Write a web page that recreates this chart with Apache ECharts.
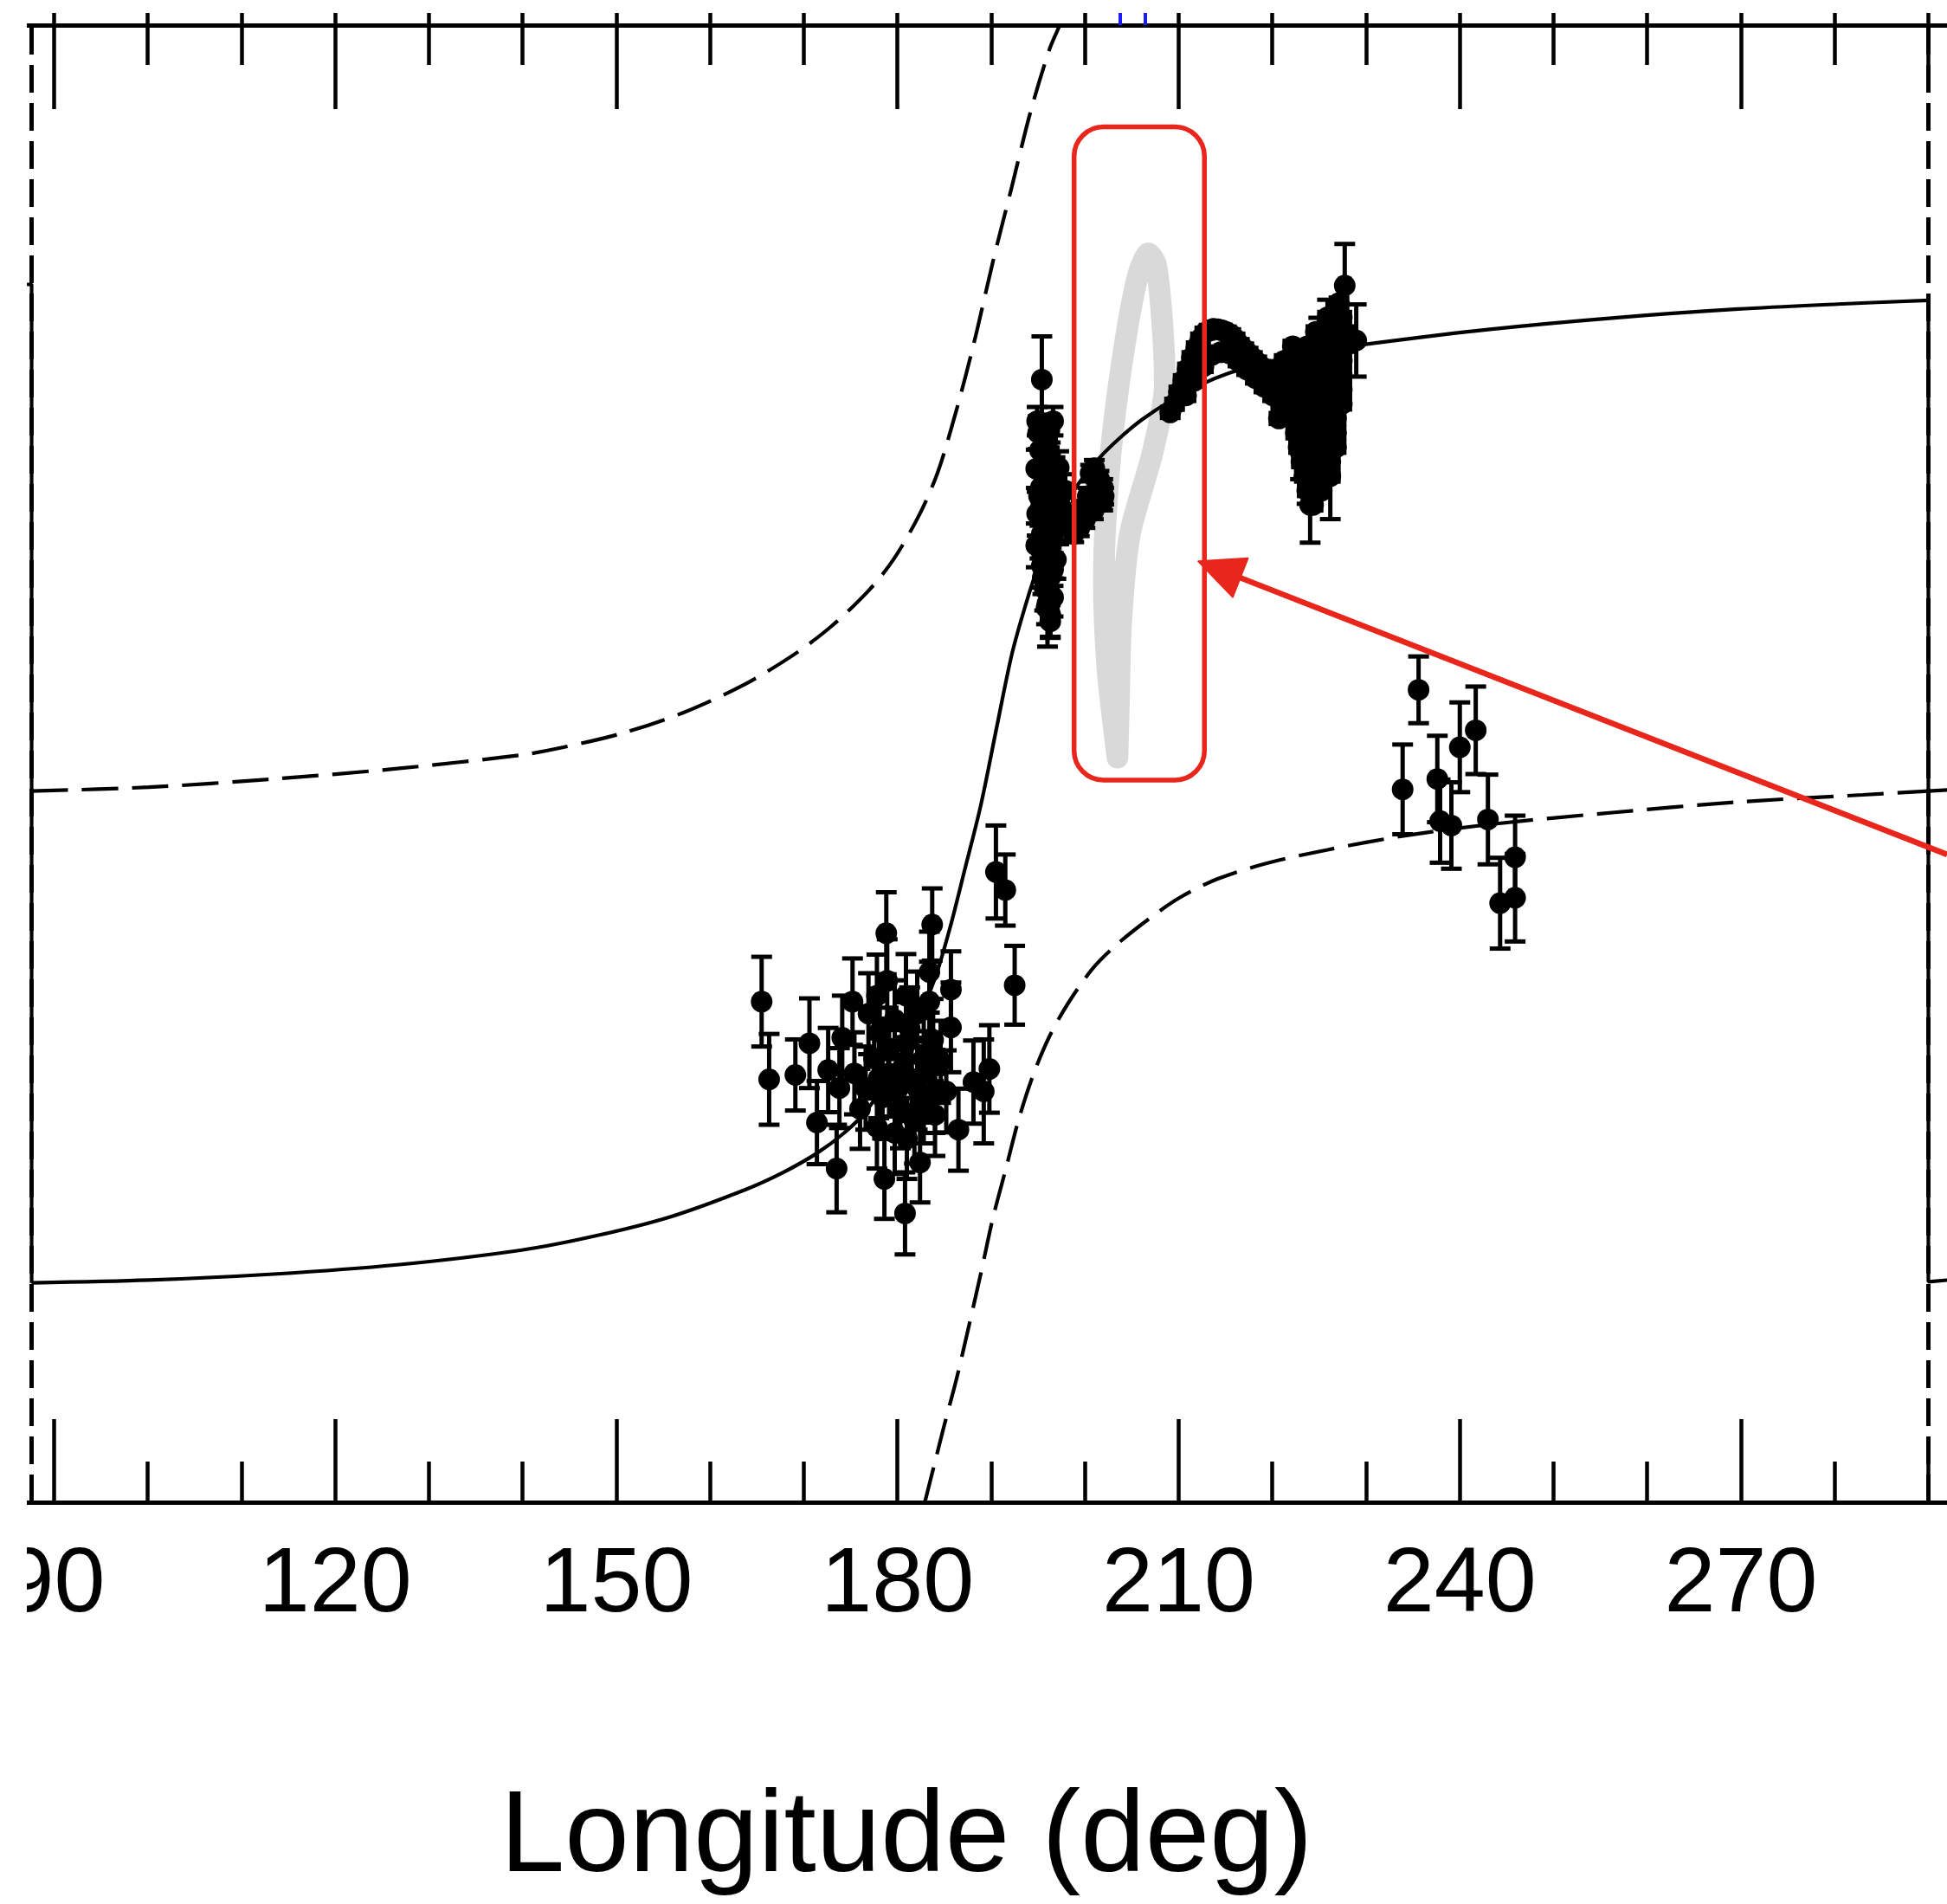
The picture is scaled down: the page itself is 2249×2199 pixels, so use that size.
<!DOCTYPE html>
<html>
<head>
<meta charset="utf-8">
<title>Position angle swing vs longitude</title>
<script src="https://cdn.jsdelivr.net/npm/echarts@6/dist/echarts.min.js"></script>
<style>
  html, body { margin: 0; padding: 0; background: #ffffff; }
  #chart { width: 2249px; height: 2199px; }
</style>
</head>
<body>
<div id="chart"></div>
<script>
// ---- axes -----------------------------------------------------------------
const LON_MIN = 87.1, LON_MAX = 300;      // longitude window (deg)
const PA_MIN = -130, PA_MAX = 140;        // position angle window (deg)
const lonLabels = [90, 120, 150, 180, 210, 240, 270, 300];
const lonTicksMajor = [90, 120, 150, 180, 210, 240, 270, 300];
const lonTicksMinor = [100, 110, 130, 140, 160, 170, 190, 200, 220, 230, 250, 260, 280, 290];
const upperPanelTicks = [90, 100, 110, 120, 130, 140, 150, 160, 170, 180, 190, 200, 210, 220, 230, 240, 250, 260, 270, 280, 290];
const upperPanelBlueTicks = [203.7, 206.4];

// ---- model curves (lon, PA) -------------------------------------------------
// rotating-vector fit; PA wraps at +/-90 deg at both ends of the window
const rvmWrapLeft = [[87.1, 92.6], [87.6, 92.6], [87.6, -89.9]];
const rvmCurve = [
  [87.6, -89.9], [100.1, -89.4], [113.4, -88.3], [126.6, -86.6],
  [139.9, -83.9], [147.8, -81.3], [155.8, -77.8], [163.7, -72.9], [167.7, -69.8], [171.4, -66.2],
  [174.3, -62.5], [176.6, -58.6], [179.0, -52.4], [181.6, -43.9], [184.0, -34.2], [185.6, -25.0],
  [187.2, -14.2], [188.9, -2.5], [190.6, 11.8], [192.2, 25.0], [193.7, 34.2], [195.0, 41.0],
  [196.9, 48.9], [199.0, 55.4], [201.5, 60.8], [203.7, 64.5], [206.1, 67.9], [209.2, 71.4],
  [212.4, 74.3], [215.4, 76.4], [219.4, 78.4], [224.7, 80.3], [231.0, 81.9], [243.2, 84.4],
  [256.5, 86.5], [269.7, 88.1], [280.3, 89.0], [290.0, 89.7]
];
const rvmWrapRight = [[290.0, 89.7], [290.0, -89.7], [292.0, -89.4]];
// orthogonal mode, +90 deg branch
const orthoUpper = [
  [87.6, 0.0], [100.1, 0.7], [113.4, 2.2], [126.6, 4.1], [139.9, 6.6], [143.8, 7.8],
  [150.5, 10.5], [157.1, 14.3], [163.7, 19.5], [169.0, 25.0], [173.0, 30.2], [177.0, 36.8],
  [179.6, 42.4], [182.3, 50.4], [184.3, 58.3], [186.3, 69.7], [188.2, 82.2], [190.2, 96.9],
  [192.2, 110.5], [194.2, 124.2], [196.2, 135.5], [197.3, 140.0], [198.2, 144.6]
];
const orthoUpperWrapped = [[290.0, 0.0], [292.0, 0.2]];
// orthogonal mode, -90 deg branch
const orthoLower = [
  [182.9, -130.1], [183.9, -123.3], [184.9, -116.5], [186.3, -107.4], [187.6, -97.9],
  [188.9, -88.1], [190.2, -77.9], [191.6, -68.8], [192.9, -60.2], [194.5, -51.8],
  [196.2, -44.9], [198.2, -38.8], [200.8, -32.5], [203.5, -27.9], [206.8, -23.4],
  [210.1, -19.5], [214.1, -16.1], [219.4, -13.2], [226.0, -10.7], [234.0, -8.2],
  [243.2, -6.1], [256.5, -3.9], [269.7, -2.0], [283.0, -0.7], [290.0, 0.0]
];
const wrapLongitudes = [87.6, 290.0];

// ---- measured position angles [lon, PA, error] -----------------------------
const clusterWest = [
  [165.5, -38.5, 8.2], [166.3, -52.7, 8.3], [169.1, -51.9, 6.5], [170.6, -46.1, 8.2],
  [171.4, -60.6, 7.6], [172.6, -51.0, 7.7], [173.5, -69.0, 8.0], [175.2, -38.5, 7.9],
  [178.8, -26.0, 7.5], [178.9, -34.7, 7.6], [178.6, -70.9, 7.3], [180.8, -77.2, 7.5],
  [182.4, -67.9, 7.3], [183.7, -24.4, 6.6], [183.4, -38.5, 7.3], [185.7, -36.3, 7.0],
  [185.7, -43.2, 8.2], [186.5, -61.9, 7.5], [189.8, -50.8, 8.0], [189.2, -54.9, 9.5],
  [190.5, -14.8, 8.5], [191.5, -18.1, 6.5], [192.5, -35.5, 7.2], [188.1, -53.2, 7.6],
  [184.0, -54.9, 7.6], [176.9, -40.7, 7.4], [178.1, -44.0, 7.8], [179.7, -41.8, 7.2],
  [180.9, -46.1, 7.5], [182.1, -40.7, 7.7], [177.5, -48.9, 7.3], [179.1, -51.6, 7.9],
  [180.6, -50.5, 7.4], [182.1, -54.3, 7.6], [178.4, -56.0, 7.5], [180.3, -58.1, 7.2],
  [181.8, -60.3, 7.8], [182.8, -48.9, 7.4], [176.6, -54.3, 7.6], [175.4, -51.6, 7.5],
  [174.1, -45.1, 7.7], [173.8, -54.3, 7.3], [177.8, -37.4, 7.5], [180.9, -37.4, 7.6],
  [182.8, -57.0, 7.4], [179.7, -62.5, 7.5], [177.8, -61.4, 7.6], [176.0, -58.1, 7.3],
  [184.0, -59.2, 7.5], [181.5, -52.7, 7.6], [183.4, -33.1, 7.4], [185.2, -54.9, 7.5],
  [179.0, -47.0, 7.4], [181.3, -43.5, 7.6], [183.8, -45.5, 7.5], [178.0, -52.5, 7.3],
  [180.0, -54.5, 7.5], [183.0, -51.5, 7.6], [181.0, -63.5, 7.4], [184.6, -49.5, 7.5]
];
const clusterColumn = [
  [195.4, 75.2, 7.9], [194.9, 67.6, 2.6], [196.6, 67.6, 2.6], [196.0, 63.9, 3.0],
  [195.2, 62.3, 4.0], [196.3, 60.2, 3.5], [197.2, 59.1, 3.0], [194.8, 58.9, 3.5],
  [195.7, 57.0, 4.0], [196.9, 56.0, 3.5], [197.9, 54.9, 3.0], [195.1, 53.9, 4.0],
  [196.3, 52.8, 4.0], [197.5, 51.7, 3.5], [194.9, 50.7, 4.0], [196.0, 49.6, 4.0],
  [197.2, 48.6, 3.5], [195.4, 47.0, 4.0], [196.6, 45.9, 4.0], [194.8, 44.9, 4.0],
  [196.0, 43.3, 4.0], [196.9, 42.3, 3.5], [195.4, 41.2, 4.0], [196.3, 39.1, 4.0],
  [195.7, 37.0, 4.0], [196.6, 35.4, 3.5], [196.0, 34.3, 7.9], [196.3, 32.2, 4.0],
  [195.0, 65.5, 3.0], [196.2, 65.8, 3.0], [195.6, 61.0, 3.0], [196.8, 58.0, 3.0],
  [195.3, 55.5, 3.0], [196.5, 54.5, 3.0], [197.0, 50.0, 3.0], [195.8, 51.5, 3.0],
  [195.2, 45.5, 3.0], [196.4, 47.5, 3.0], [195.6, 43.0, 3.0], [196.6, 40.5, 3.0],
  [195.5, 39.0, 3.0], [196.2, 36.5, 3.0], [195.9, 33.5, 3.0], [196.3, 31.0, 3.0]
];
const clusterKnot = [
  [201.5, 57.0, 1.5], [201.9, 55.5, 1.5], [201.9, 52.8, 1.5], [200.9, 51.2, 1.5],
  [200.0, 49.6, 1.5], [199.4, 48.1, 1.5], [200.6, 58.1, 1.5], [202.0, 53.9, 1.5],
  [200.3, 53.9, 1.5], [201.2, 54.9, 1.5], [198.8, 47.0, 1.5], [199.6, 51.5, 1.5],
  [198.3, 49.5, 1.5], [201.0, 59.0, 1.5]
];
const clusterBand = [
  [209.1, 69.2, 1.0], [209.56, 70.7, 1.0], [210.02, 72.9, 1.0], [210.48, 75.0, 1.0],
  [210.94, 77.1, 1.0], [211.4, 79.2, 1.0], [211.87, 81.0, 1.0], [212.33, 82.6, 1.0],
  [212.79, 83.7, 1.0], [213.25, 84.2, 1.0], [213.71, 84.5, 1.0], [214.18, 84.4, 1.0],
  [214.64, 84.2, 1.0], [215.1, 83.9, 1.0], [215.56, 83.4, 1.0], [216.02, 82.6, 1.0],
  [216.48, 81.6, 1.0], [216.95, 80.8, 1.0], [217.41, 80.0, 1.0], [217.87, 79.2, 1.0],
  [218.33, 78.4, 1.0], [218.79, 77.6, 1.0], [219.26, 77.1, 1.0], [219.72, 76.3, 1.0],
  [220.18, 75.8, 1.0],
  [210.79, 72.3, 1.0], [211.71, 75.0, 1.0], [212.64, 77.6, 1.0], [213.56, 79.7, 1.0],
  [214.48, 80.2, 1.0], [215.41, 80.0, 1.0], [216.33, 78.65, 1.0], [217.25, 77.07, 1.0],
  [218.18, 75.5, 1.0], [219.1, 73.9, 1.0], [220.03, 72.3, 1.0],
  [220.6, 73.4, 1.0], [220.9, 70.7, 1.0], [220.7, 68.1, 1.0],
  [227.11, 89.2, 1.0],
  [225.88, 86.57, 1.0], [227.41, 86.57, 1.0],
  [224.64, 83.93, 1.0], [226.18, 83.93, 1.0], [227.72, 83.93, 1.0],
  [222.18, 81.29, 1.0], [223.72, 81.29, 1.0], [225.26, 81.29, 1.0], [226.8, 81.29, 1.0], [227.72, 81.29, 1.0],
  [221.26, 78.65, 1.0], [222.8, 78.65, 1.0], [224.34, 78.65, 1.0], [225.88, 78.65, 1.0], [227.41, 78.65, 1.0],
  [221.26, 76.02, 1.0], [222.8, 76.02, 1.0], [224.34, 76.02, 1.0], [225.88, 76.02, 1.0], [227.41, 76.02, 1.0],
  [221.57, 73.38, 1.0], [223.1, 73.38, 1.0], [224.64, 73.38, 1.0], [226.18, 73.38, 1.0], [227.41, 73.38, 1.0],
  [221.87, 70.74, 1.0], [223.41, 70.74, 1.0], [224.95, 70.74, 1.0], [226.49, 70.74, 1.0], [227.41, 70.74, 1.0],
  [222.18, 68.11, 1.0], [223.72, 68.11, 1.0], [225.26, 68.11, 1.0], [226.8, 68.11, 1.0],
  [222.49, 65.47, 1.0], [224.03, 65.47, 1.0], [225.57, 65.47, 1.0], [226.8, 65.47, 1.0],
  [222.8, 62.83, 1.0], [224.34, 62.83, 1.0], [225.88, 62.83, 1.0], [226.8, 62.83, 1.0],
  [223.1, 60.19, 1.0], [224.64, 60.19, 1.0], [226.18, 60.19, 1.0],
  [223.41, 57.56, 1.0], [224.95, 57.56, 1.0], [226.18, 57.56, 1.0],
  [223.72, 54.92, 1.0], [225.26, 54.92, 1.0],
  [224.34, 52.28, 1.0],
  [227.72, 92.4, 7.6], [228.95, 82.35, 6.6], [224.03, 52.3, 6.9], [226.18, 57.6, 7.9],
  [225.88, 82.9, 6.9], [224.95, 80.2, 6.3], [223.0, 62.0, 5.0], [223.7, 57.0, 4.5]
];
const clusterEast = [
  [235.6, 18.5, 6.1], [233.9, 0.3, 8.2], [237.6, 2.2, 7.9], [237.9, -5.5, 7.6],
  [239.1, -6.3, 7.9], [240.0, 8.0, 8.2], [241.7, 11.1, 8.0], [243.0, -5.2, 8.2],
  [245.9, -12.1, 7.6], [244.3, -20.5, 8.3], [245.9, -19.5, 8.0]
];

// ---- hand-drawn annotations ---------------------------------------------
// light grey excursion track (lon, PA)
const grayTrack = [
  [203.47, 6.1], [202.42, 22.0], [202.02, 37.9], [202.2, 49.3], [202.95, 65.2],
  [204.4, 83.3], [205.73, 94.7], [206.79, 98.3], [207.58, 96.2], [208.25, 85.6],
  [208.52, 74.2], [207.19, 61.7], [204.8, 47.0], [203.87, 31.1], [203.61, 15.2],
  [203.47, 6.1]
];
const highlightBox = [[198.84, 212.75, 2.0, 121.4]];   // lon from/to, PA from/to
const pointerArrow = [[292.0, -11.6, 212.1, 42.0]];   // tail lon/PA, tip lon/PA

const RED = '#e8261b';
const FONT = '"Liberation Sans", Arial, Helvetica, sans-serif';
const measured = [].concat(clusterWest, clusterColumn, clusterKnot, clusterBand, clusterEast);

// pixel geometry of the frame
const PX_PER_DEG = 10.825;
const GRID_LEFT = 31.1;
const GRID_TOP = 29;

const chart = echarts.init(document.getElementById('chart'), null, { renderer: 'canvas', width: 2249, height: 2199 });

function lonAxis(extra) {
  return Object.assign({
    type: 'value', gridIndex: 0, min: LON_MIN, max: LON_MAX,
    splitLine: { show: false },
    axisLine: { show: false, onZero: false },
    axisTick: { show: false },
    axisLabel: { show: false }
  }, extra);
}
const tickStyle = { color: '#000', width: 4.5 };
const frameStyle = { color: '#000', width: 5 };
const dash = [42, 16];

function curve(name, data, opts) {
  return Object.assign({
    name: name, type: 'line', data: data, z: 2,
    showSymbol: false, silent: true
  }, opts);
}
const solidStyle = { color: '#000', width: 4.2 };
const dashedStyle = { color: '#000', width: 4.2, type: dash };

const option = {
  animation: false,
  backgroundColor: '#ffffff',
  title: {
    text: 'Longitude (deg)',
    left: 1042, top: 2052, textAlign: 'center',
    textStyle: { fontSize: 134, fontWeight: 'normal', fontFamily: FONT, color: '#000' }
  },
  grid: {
    left: GRID_LEFT, top: GRID_TOP,
    width: (LON_MAX - LON_MIN) * PX_PER_DEG, height: 1706,
    containLabel: false, outerBoundsMode: 'none'
  },
  xAxis: [
    lonAxis({
      position: 'bottom',
      axisLine: { show: true, onZero: false, lineStyle: frameStyle },
      axisTick: { show: true, inside: true, length: 96, customValues: lonTicksMajor, lineStyle: tickStyle },
      axisLabel: { show: true, customValues: lonLabels, margin: 44, fontSize: 106, fontFamily: FONT, color: '#000' }
    }),
    lonAxis({
      position: 'bottom',
      axisTick: { show: true, inside: true, length: 47, customValues: lonTicksMinor, lineStyle: tickStyle }
    }),
    lonAxis({
      position: 'top',
      axisLine: { show: true, onZero: false, lineStyle: frameStyle },
      axisTick: { show: true, inside: true, length: 97, customValues: lonTicksMajor, lineStyle: tickStyle }
    }),
    lonAxis({
      position: 'top',
      axisTick: { show: true, inside: true, length: 46, customValues: lonTicksMinor, lineStyle: tickStyle }
    }),
    lonAxis({
      position: 'top',
      axisTick: { show: true, inside: false, length: 14, customValues: upperPanelTicks, lineStyle: tickStyle }
    }),
    lonAxis({
      position: 'top',
      axisTick: { show: true, inside: false, length: 14, customValues: upperPanelBlueTicks, lineStyle: { color: '#1a1aff', width: 4 } }
    })
  ],
  yAxis: {
    type: 'value', min: PA_MIN, max: PA_MAX, show: false,
    splitLine: { show: false }
  },
  graphic: [
    // left margin of the panel
    { type: 'rect', left: 0, top: 0, z: 100, shape: { width: 31, height: 2199 }, style: { fill: '#ffffff' } }
  ],
  series: [
    curve('excursion', grayTrack, {
      z: 1, smooth: 0.25,
      lineStyle: { color: '#d9d9d9', width: 25, cap: 'round', join: 'round' }
    }),
    curve('orthogonal +90', orthoUpper, { smooth: 0.3, lineStyle: dashedStyle }),
    curve('orthogonal +90 wrapped', orthoUpperWrapped, { lineStyle: dashedStyle }),
    curve('orthogonal -90', orthoLower, { smooth: 0.3, lineStyle: dashedStyle }),
    curve('RVM wrap left', rvmWrapLeft, { lineStyle: solidStyle }),
    curve('RVM', rvmCurve, {
      smooth: 0.3, lineStyle: solidStyle,
      markLine: {
        silent: true, symbol: ['none', 'none'], label: { show: false },
        lineStyle: { color: '#000', width: 5, type: [32, 12] },
        data: wrapLongitudes.map(v => ({ xAxis: v }))
      }
    }),
    curve('RVM wrap right', rvmWrapRight, { lineStyle: solidStyle }),
    {
      name: 'PA error', type: 'custom', data: measured, z: 3, silent: true,
      encode: { x: 0, y: 1 }, clip: true,
      renderItem: function (params, api) {
        const lon = api.value(0), pa = api.value(1), err = api.value(2);
        const hi = api.coord([lon, pa + err]);
        const lo = api.coord([lon, pa - err]);
        const cap = 12;
        const style = { stroke: '#000', lineWidth: 5 };
        return {
          type: 'group', children: [
            { type: 'line', shape: { x1: hi[0], y1: hi[1], x2: lo[0], y2: lo[1] }, style: style },
            { type: 'line', shape: { x1: hi[0] - cap, y1: hi[1], x2: hi[0] + cap, y2: hi[1] }, style: style },
            { type: 'line', shape: { x1: lo[0] - cap, y1: lo[1], x2: lo[0] + cap, y2: lo[1] }, style: style }
          ]
        };
      }
    },
    {
      name: 'PA', type: 'scatter', z: 4, silent: true,
      data: measured.map(r => [r[0], r[1]]),
      symbol: 'circle', symbolSize: 25,
      itemStyle: { color: '#000', opacity: 1 }
    },
    {
      name: 'highlight', type: 'custom', data: highlightBox, z: 6, silent: true,
      encode: { x: [0, 1], y: [2, 3] }, clip: false,
      renderItem: function (params, api) {
        const a = api.coord([api.value(0), api.value(3)]);
        const b = api.coord([api.value(1), api.value(2)]);
        return {
          type: 'rect',
          shape: { x: a[0], y: a[1], width: b[0] - a[0], height: b[1] - a[1], r: 34 },
          style: { fill: null, stroke: RED, lineWidth: 5.5 }
        };
      }
    },
    {
      name: 'pointer', type: 'custom', data: pointerArrow, z: 6, silent: true,
      encode: { x: [0, 2], y: [1, 3] }, clip: false,
      renderItem: function (params, api) {
        const a = api.coord([api.value(0), api.value(1)]);
        const b = api.coord([api.value(2), api.value(3)]);
        const dx = b[0] - a[0], dy = b[1] - a[1];
        const len = Math.sqrt(dx * dx + dy * dy);
        const ux = dx / len, uy = dy / len;
        const headLen = 52, headHalf = 24;
        const bx = b[0] - ux * headLen, by = b[1] - uy * headLen;
        return {
          type: 'group', children: [
            { type: 'line', shape: { x1: a[0], y1: a[1], x2: bx, y2: by }, style: { stroke: RED, lineWidth: 6.5 } },
            {
              type: 'polygon',
              shape: { points: [[b[0], b[1]], [bx - uy * headHalf, by + ux * headHalf], [bx + uy * headHalf, by - ux * headHalf]] },
              style: { fill: RED, stroke: RED, lineWidth: 2, lineJoin: 'round' }
            }
          ]
        };
      }
    }
  ]
};

chart.setOption(option);
</script>
</body>
</html>
